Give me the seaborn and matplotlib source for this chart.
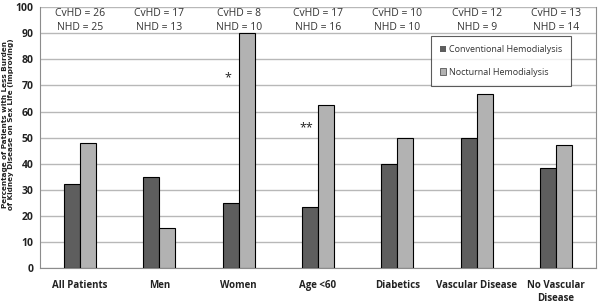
import numpy as np
import pandas as pd
import matplotlib
matplotlib.use("Agg")
import matplotlib.pyplot as plt
import seaborn as sns
from matplotlib.patches import Patch
from matplotlib import font_manager


categories = ["All Patients", "Men", "Women", "Age <60", "Diabetics",
              "Vascular Disease", "No Vascular\nDisease"]
conventional = [32, 35, 25, 23.5, 40, 50, 38.5]
nocturnal = [48, 15.4, 90, 62.5, 50, 66.7, 47]
n_cvhd = [26, 17, 8, 17, 10, 12, 13]
n_nhd = [25, 13, 10, 16, 10, 9, 14]
series = ["Conventional Hemodialysis", "Nocturnal Hemodialysis"]
colors = ["#5e5e5e", "#b2b2b2"]


def main():

    df = pd.DataFrame({
        "category": categories * 2,
        "value": conventional + nocturnal,
        "series": [series[0]] * len(categories) + [series[1]] * len(categories),
    })

    sns.set_style("white")
    plt.rcParams["font.family"] = ["Open Sans", "DejaVu Sans"]

    names = {f.name for f in font_manager.fontManager.ttflist}
    narrow = [n for n in ["Liberation Sans Narrow", "DejaVu Sans Condensed"]
              if n in names]
    label_family = narrow + ["DejaVu Sans"]

    fig = plt.figure(figsize=(6, 3.03), dpi=100)
    ax = fig.add_axes([0.067, 0.116, 0.926, 0.86])

    sns.barplot(data=df, x="category", y="value", hue="series", palette=colors,
                width=0.4, edgecolor="black", linewidth=0.8, ax=ax,
                legend=False, zorder=3)

    ax.set_ylim(0, 100)
    ax.set_xlim(-0.5, len(categories) - 0.5)
    ax.set_yticks(range(0, 101, 10))
    ax.yaxis.grid(True, color="#b8b8b8", linewidth=1, zorder=0)
    ax.set_axisbelow(True)

    ax.spines["top"].set_visible(False)
    for side in ["left", "bottom", "right"]:
        ax.spines[side].set_color("#8c8c8c")

    ax.tick_params(axis="x", length=0, labelsize=7, colors="#222222", pad=9)
    ax.tick_params(axis="y", length=3, width=0.8, color="#8c8c8c",
                   labelsize=7.5, labelcolor="#222222", pad=2)
    for lab in ax.get_xticklabels() + ax.get_yticklabels():
        lab.set_fontweight("bold")

    ax.set_xlabel("")
    size = 6.2 if narrow else 5.2
    ax.set_ylabel("Percentage of Patients with Less Burden\n"
                  "of Kidney Disease on Sex Life (Improving)",
                  fontsize=size, fontweight="bold", color="#222222",
                  family=label_family, linespacing=1.0)
    ax.yaxis.set_label_coords(-0.047, 0.55)

    # sample sizes
    for i, (c, n) in enumerate(zip(n_cvhd, n_nhd)):
        ax.text(i, 97.8, f"CvHD = {c}", ha="center", va="center",
                fontsize=7.5, color="#333333")
        ax.text(i, 92.4, f"NHD = {n}", ha="center", va="center",
                fontsize=7.5, color="#333333")

    # significance marks
    ax.text(1.87, 72.8, "*", ha="center", va="center", fontsize=9, color="#222222")
    ax.text(2.85, 53.8, "**", ha="center", va="center", fontsize=9, color="#222222")

    handles = [Patch(facecolor=colors[0], edgecolor="none"),
               Patch(facecolor=colors[1], edgecolor="#555555", linewidth=0.6)]
    leg = ax.legend(handles, series, loc="upper left",
                    bbox_to_anchor=(0.703, 0.89), fontsize=6.5,
                    frameon=True, fancybox=False, handlelength=0.7,
                    handleheight=0.7, handletextpad=0.3, labelspacing=1.5,
                    borderpad=1.0, borderaxespad=0)
    leg.get_frame().set_edgecolor("#333333")
    leg.get_frame().set_linewidth(0.8)
    for t in leg.get_texts():
        t.set_color("#333333")

    plt.savefig("out.png", dpi=100)


if __name__ == "__main__":
    main()
